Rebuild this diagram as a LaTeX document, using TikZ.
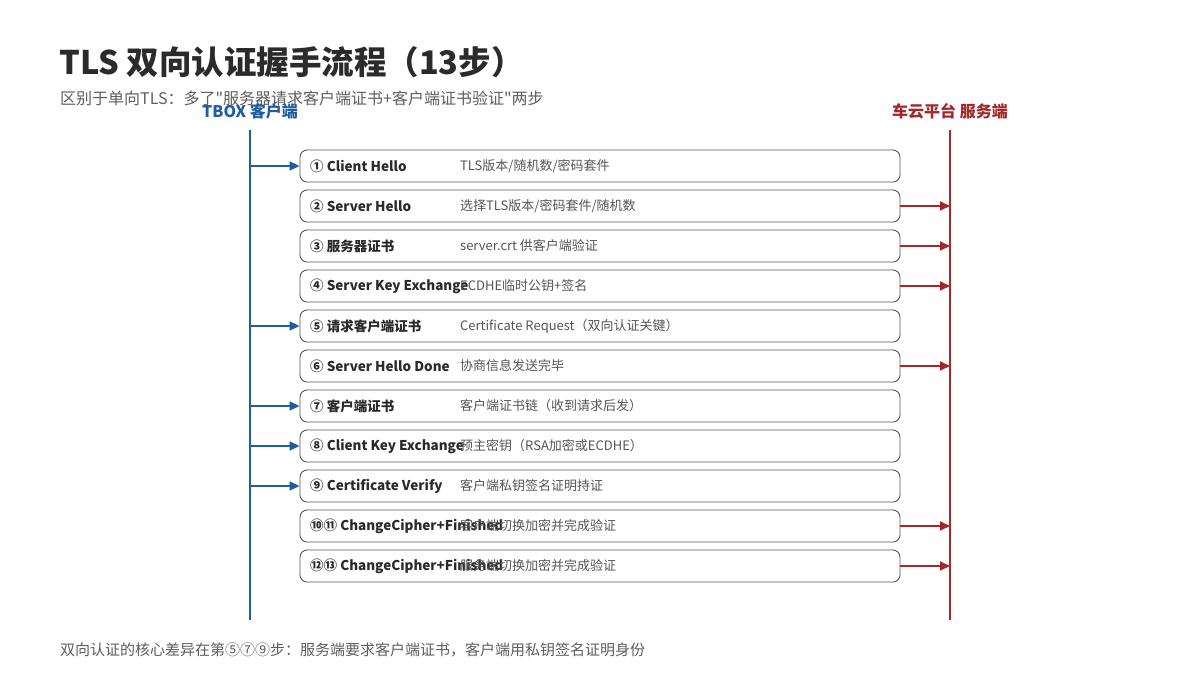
\documentclass[tikz,border=0pt]{standalone}
\usepackage{fontspec}
\setmainfont{Noto Sans CJK SC}[Ligatures=TeXOff]
\usetikzlibrary{arrows.meta}
\definecolor{titlec}{HTML}{2B2B2B}
\definecolor{subc}{HTML}{5E5E5E}
\definecolor{cblue}{HTML}{1F5CA3}
\definecolor{sred}{HTML}{A3282B}
\definecolor{boxc}{HTML}{555555}
\definecolor{labc}{HTML}{2A2A2A}
\tikzset{
  stepbox/.style={draw=boxc, line width=0.9pt, rounded corners=7pt, minimum width=600pt, minimum height=32pt, inner sep=0pt, fill=white},
  steplab/.style={anchor=west, inner sep=0pt, font=\fontsize{13.5}{16}\selectfont\bfseries, text=labc},
  stepdet/.style={anchor=west, inner sep=0pt, font=\fontsize{13}{16}\selectfont, text=boxc},
  lifeC/.style={draw=cblue, line width=2.6pt},
  lifeS/.style={draw=sred, line width=2.6pt},
  carrow/.style={draw=cblue, line width=1.8pt, -{Triangle[length=10pt,width=9pt]}},
  sarrow/.style={draw=sred, line width=1.8pt, -{Triangle[length=10pt,width=9pt]}},
}
\begin{document}
\begin{tikzpicture}[x=1pt,y=-1pt]
\useasboundingbox (0,0) rectangle (1200,700);
\fill[white] (0,0) rectangle (1200,700);
% title
\node[anchor=west, inner sep=0pt, font=\fontsize{32.5}{36}\selectfont\bfseries, text=titlec] (title) at (59,62) {TLS 双向认证握手流程（13步）};
\node[anchor=west, inner sep=0pt, font=\fontsize{16}{18}\selectfont, text=subc] (sub) at (60,98) {区别于单向TLS：多了"服务器请求客户端证书+客户端证书验证"两步};
% actors
\node[inner sep=0pt, font=\fontsize{16}{19}\selectfont\bfseries, text=cblue] (client) at (250,111) {TBOX 客户端};
\node[inner sep=0pt, font=\fontsize{16}{19}\selectfont\bfseries, text=sred] (server) at (950,111) {车云平台 服务端};
% lifelines
\coordinate (ctop) at (250,130);
\coordinate (cbot) at (250,620);
\coordinate (stop) at (950,130);
\coordinate (sbot) at (950,620);
\draw[lifeC] (ctop) -- (cbot);
\draw[lifeS] (stop) -- (sbot);
% steps
\foreach \i/\lab/\det [count=\n] in {
  1/{① Client Hello}/{TLS版本/随机数/密码套件},
  2/{② Server Hello}/{选择TLS版本/密码套件/随机数},
  3/{③ 服务器证书}/{server.crt 供客户端验证},
  4/{④ Server Key Exchange}/{ECDHE临时公钥+签名},
  5/{⑤ 请求客户端证书}/{Certificate Request（双向认证关键）},
  6/{⑥ Server Hello Done}/{协商信息发送完毕},
  7/{⑦ 客户端证书}/{客户端证书链（收到请求后发）},
  8/{⑧ Client Key Exchange}/{预主密钥（RSA加密或ECDHE）},
  9/{⑨ Certificate Verify}/{客户端私钥签名证明持证},
  10/{⑩⑪ ChangeCipher+Finished}/{客户端切换加密并完成验证},
  11/{⑫⑬ ChangeCipher+Finished}/{服务端切换加密并完成验证}}
{
  \pgfmathsetmacro{\yy}{126+40*\i}
  \node[stepbox] (b\i) at (600,\yy) {};
  \node[steplab] (l\i) at (310,\yy) {\lab};
  \node[stepdet] (d\i) at (460,\yy) {\det};
}
% client -> platform arrows (drawn from client lifeline)
\foreach \i in {1,5,7,8,9}{
  \draw[carrow] (b\i.west -| ctop) -- (b\i.west);
}
\foreach \i in {2,3,4,6,10,11}{
  \draw[sarrow] (b\i.east) -- (b\i.east -| stop);
}
% footer
\node[anchor=west, inner sep=0pt, font=\fontsize{15}{18}\selectfont, text=subc] (foot) at (60,650) {双向认证的核心差异在第⑤⑦⑨步：服务端要求客户端证书，客户端用私钥签名证明身份};
\end{tikzpicture}
\end{document}
